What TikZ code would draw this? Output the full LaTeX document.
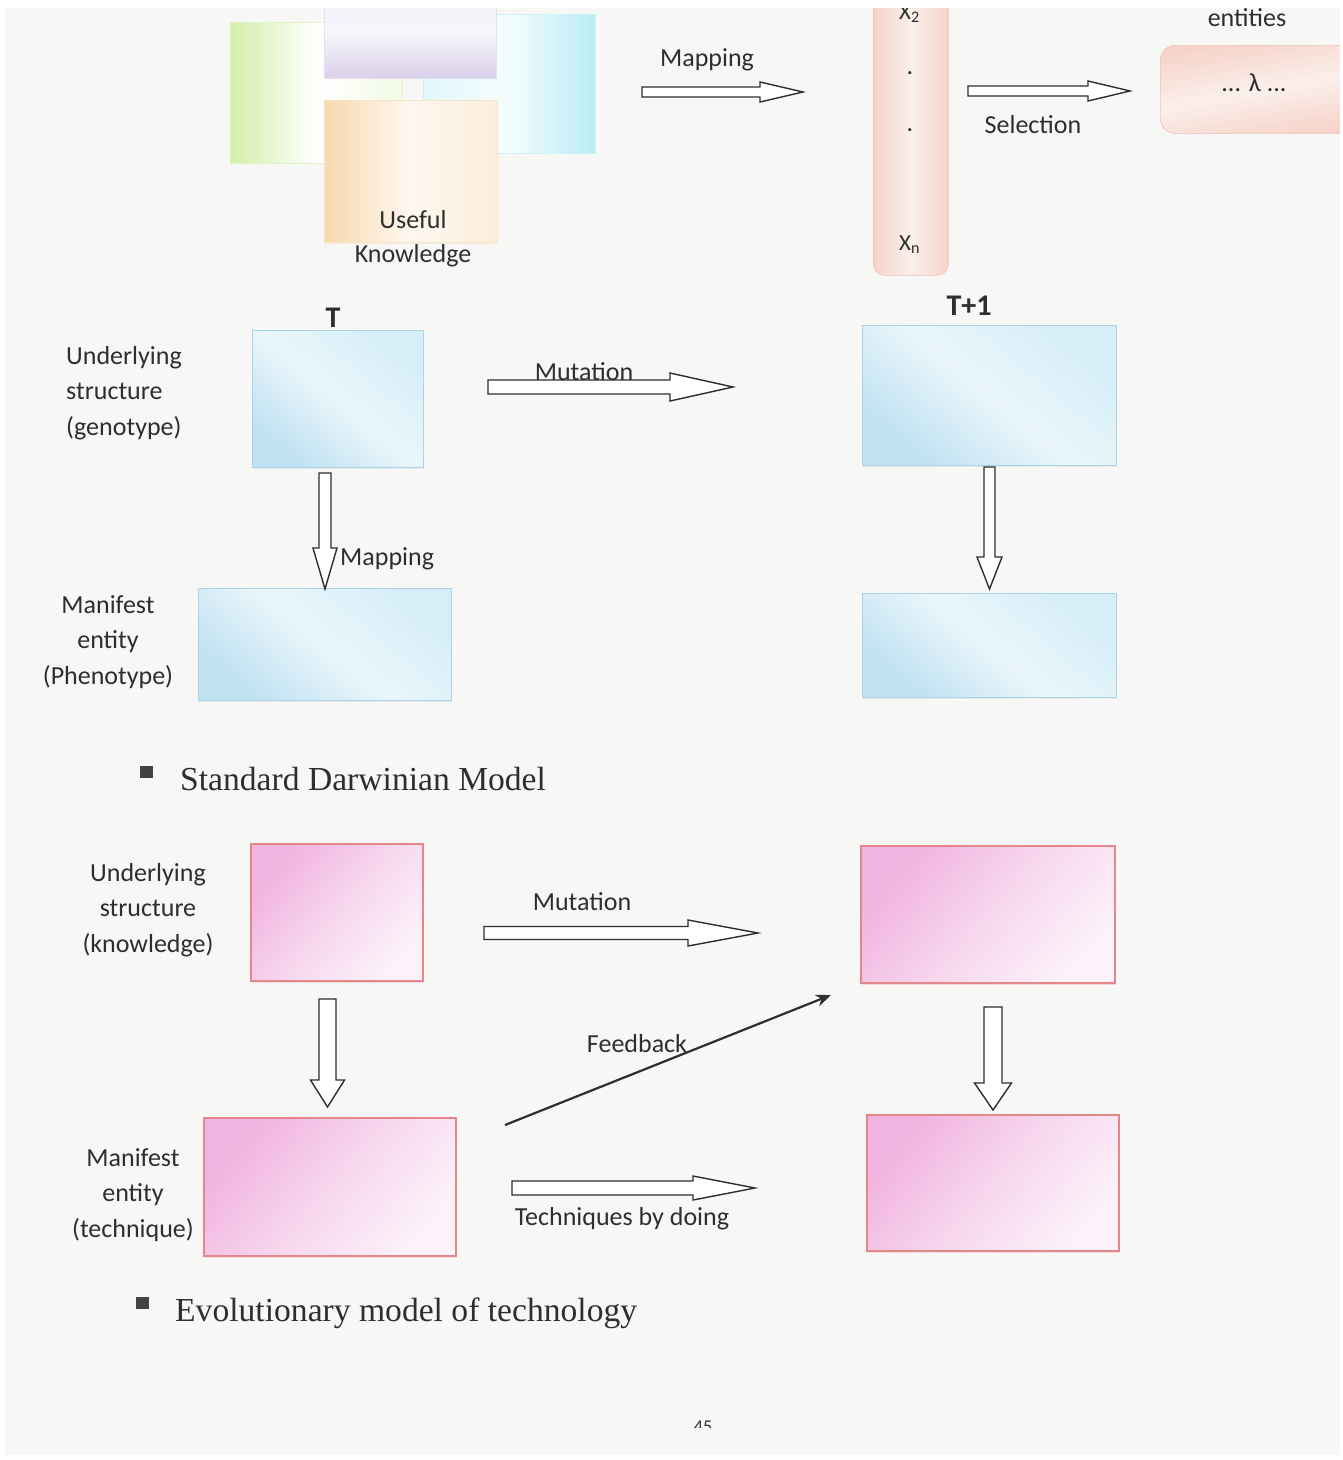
\documentclass[tikz,border=0pt]{standalone}
\usepackage{fontspec}
\setmainfont{Carlito}
\newfontfamily\capserif{Liberation Serif}
\usetikzlibrary{calc,arrows.meta,shadows}

\definecolor{paper}{HTML}{F7F7F5}
\definecolor{ink}{HTML}{2E2E2E}
\definecolor{blueA}{HTML}{BFE1F2}
\definecolor{blueB}{HTML}{D6EEF8}
\definecolor{blueC}{HTML}{EAF6FB}
\definecolor{blueedge}{HTML}{A8D3E8}
\definecolor{pinkA}{HTML}{F1B3DF}
\definecolor{pinkB}{HTML}{FCF2F9}
\definecolor{pinkC}{HTML}{F7D6EE}
\definecolor{pinkedge}{HTML}{E3878A}
\definecolor{greenA}{HTML}{D3EEAA}
\definecolor{lavA}{HTML}{D9D0EA}
\definecolor{cyanA}{HTML}{B8ECF4}
\definecolor{orangeA}{HTML}{F8D9AE}
\definecolor{peachA}{HTML}{F6D3C9}
\definecolor{peachB}{HTML}{FBEFEB}
\definecolor{peachedge}{HTML}{EFC0B6}

% horizontal block arrow: #1 start, #2 tip, #3 shaft half-width, #4 head half-width, #5 head length
\newcommand\hblock[5]{%
  \draw[blockarrow] let \p1=(#1), \p2=(#2) in
    (\x1,\y1+#3pt) -- (\x2-#5pt,\y1+#3pt) -- (\x2-#5pt,\y1+#4pt) -- (\x2,\y1)
    -- (\x2-#5pt,\y1-#4pt) -- (\x2-#5pt,\y1-#3pt) -- (\x1,\y1-#3pt) -- cycle;}
% downward block arrow: same arguments
\newcommand\vblock[5]{%
  \draw[blockarrow] let \p1=(#1), \p2=(#2) in
    (\x1-#3pt,\y1) -- (\x1-#3pt,\y2+#5pt) -- (\x1-#4pt,\y2+#5pt) -- (\x1,\y2)
    -- (\x1+#4pt,\y2+#5pt) -- (\x1+#3pt,\y2+#5pt) -- (\x1+#3pt,\y1) -- cycle;}

\tikzset{
  lbl/.style={font=\fontsize{26}{35.5}\selectfont, text=ink, inner sep=0pt, align=center},
  head/.style={font=\fontsize{30}{30}\bfseries\selectfont, text=ink, inner sep=0pt},
  caption/.style={font=\capserif\fontsize{33.6}{33.6}\selectfont, text=ink, inner sep=0pt, anchor=base west},
  bullet/.style={fill=ink!90, inner sep=0pt, minimum width=13pt, minimum height=12pt, anchor=north west},
  box/.style={anchor=north west, inner sep=0pt},
  bluebox/.style={box, draw=blueedge, line width=0.8pt,
    top color=blueB, bottom color=blueA, middle color=blueC, shading angle=-40,
    drop shadow={opacity=0.12, shadow xshift=1pt, shadow yshift=-2pt}},
  pinkbox/.style={box, draw=pinkedge, line width=1.6pt,
    top color=pinkA, bottom color=pinkB, middle color=pinkC, shading angle=50,
    drop shadow={color=pinkedge, opacity=0.25, shadow xshift=1pt, shadow yshift=-2.5pt}},
  softsq/.style={box, draw=#1!70, line width=0.6pt},
  blockarrow/.style={draw=ink, line width=1.4pt, fill=white, line join=miter},
  feedback/.style={draw=ink, line width=2.2pt, -{Stealth[length=15pt,width=12pt]}},
}

\begin{document}
\begin{tikzpicture}[x=1pt,y=-1pt]
\useasboundingbox (0,0) rectangle (1343,1460);
\fill[white] (0,0) rectangle (1343,1460);
\fill[paper] (5,8) rectangle (1340,1455);

\begin{scope}
\clip (5,8) rectangle (1340,1455);

% ---- useful knowledge: overlapping squares ----
\node[softsq=greenA, left color=greenA, right color=white!70!greenA, middle color=white,
      minimum width=172pt, minimum height=141pt] (sqgreen) at (230,22) {};
\node[softsq=cyanA, right color=cyanA, left color=white!60!cyanA, middle color=white!85!cyanA,
      minimum width=172pt, minimum height=139pt] (sqcyan) at (423,14) {};
\node[softsq=lavA, bottom color=lavA, top color=white!70!lavA, middle color=white!80!lavA,
      minimum width=172pt, minimum height=90pt] (sqlav) at (324,-12) {};
\node[softsq=orangeA, left color=orangeA, right color=white!55!orangeA, middle color=white!80!orangeA,
      minimum width=173pt, minimum height=142pt,
      drop shadow={color=orangeA, opacity=0.3, shadow xshift=1pt, shadow yshift=-2pt}] (sqorange) at (324,100) {};
\node[lbl] (useful) at (413,220) {Useful};
\node[lbl] (knowl) at (413,256) {Knowledge};

% ---- mapping to the population column ----
\coordinate (mapA) at (642,92);
\coordinate (mapB) at (803,92);
\hblock{mapA}{mapB}{5}{10}{43}
\node[lbl] (maplbl) at (707,60) {Mapping};

\node[box, draw=peachedge, line width=0.6pt, rounded corners=11pt,
      left color=peachA, right color=peachA, middle color=peachB,
      minimum width=75pt, minimum height=300pt] (column) at (873,-25) {};
\node[lbl, font=\fontsize{23}{23}\selectfont, anchor=base west] (x2) at (899,19) {X\textsubscript{2}};
\node[lbl, anchor=base] (dotA) at (910,74) {.};
\node[lbl, anchor=base] (dotB) at (910,131) {.};
\node[lbl, font=\fontsize{23}{23}\selectfont, anchor=base west] (xn) at (899,250) {X\textsubscript{n}};

% ---- selection ----
\coordinate (selA) at (968,91);
\coordinate (selB) at (1130,91);
\hblock{selA}{selB}{5}{10}{42}
\node[lbl] (sellbl) at (1033,125) {Selection};

\node[lbl] (entities) at (1247,18) {entities};
\node[box, draw=peachedge, line width=0.6pt, rounded corners=15pt,
      top color=peachA, bottom color=peachA, middle color=peachB, shading angle=10,
      minimum width=210pt, minimum height=88pt] (lambox) at (1160,45) {};
\node[lbl] (lam) at (1254,83) {... λ ...};

% ---- standard Darwinian model ----
\node[head] (tlbl) at (333,318) {T};
\node[head] (t1lbl) at (969,306) {T+1};

\node[bluebox, minimum width=171pt, minimum height=137pt] (geno1) at (252,330) {};
\node[bluebox, minimum width=253pt, minimum height=112pt] (pheno1) at (198,588) {};
\node[bluebox, minimum width=254pt, minimum height=140pt] (geno2) at (862,325) {};
\node[bluebox, minimum width=254pt, minimum height=104pt] (pheno2) at (862,593) {};

\node[lbl, align=left, anchor=west] (genolbl) at (66,393) {Underlying\\structure\\(genotype)};
\node[lbl] (phenolbl) at (108,642) {Manifest\\entity\\(Phenotype)};

\coordinate (mutA) at (488,387);
\coordinate (mutB) at (733,387);
\hblock{mutA}{mutB}{7}{14}{63}
\node[lbl] (mutlbl) at (584,372) {Mutation};

\coordinate (gmapA) at (325,473);
\coordinate (gmapB) at (325,589);
\vblock{gmapA}{gmapB}{6}{12}{41}
\node[lbl, anchor=west] (gmaplbl) at (340,559) {Mapping};

\coordinate (gmap2A) at (989.5,467);
\coordinate (gmap2B) at (989.5,589);
\vblock{gmap2A}{gmap2B}{5.5}{12.5}{32}

\node[bullet] (bul1) at (140,766) {};
\node[caption] (cap1) at (180,790) {Standard Darwinian Model};

% ---- evolutionary model of technology ----
\node[pinkbox, minimum width=172pt, minimum height=137pt] (know1) at (250,843) {};
\node[pinkbox, minimum width=252pt, minimum height=138pt] (tech1) at (203,1117) {};
\node[pinkbox, minimum width=254pt, minimum height=137pt] (know2) at (860,845) {};
\node[pinkbox, minimum width=252pt, minimum height=136pt] (tech2) at (866,1114) {};

\node[lbl] (knowlbl) at (148,910) {Underlying\\structure\\(knowledge)};
\node[lbl] (techlbl) at (133,1195) {Manifest\\entity\\(technique)};

\coordinate (kmutA) at (484,933);
\coordinate (kmutB) at (758,933);
\hblock{kmutA}{kmutB}{6.5}{13}{70}
\node[lbl] (kmutlbl) at (582,902) {Mutation};

\coordinate (kdownA) at (327.5,999);
\coordinate (kdownB) at (327.5,1107);
\vblock{kdownA}{kdownB}{8.5}{17}{27}

\coordinate (k2downA) at (993,1007);
\coordinate (k2downB) at (993,1110);
\vblock{k2downA}{k2downB}{9}{18.5}{27}

\coordinate (fbA) at (505,1125);
\coordinate (fbB) at (831,995);
\draw[feedback] (fbA) -- (fbB);
\node[lbl] (fblbl) at (637,1044) {Feedback};

\coordinate (tdA) at (512,1188);
\coordinate (tdB) at (755,1188);
\hblock{tdA}{tdB}{7}{12}{62}
\node[lbl] (tdlbl) at (622,1219) {Techniques by doing};

\node[bullet] (bul2) at (136,1297) {};
\node[caption] (cap2) at (175,1321) {Evolutionary model of technology};
\end{scope}

% page number, cut off by the lower edge of the sheet
\begin{scope}
\clip (680,1400) rectangle (730,1427);
\node[lbl, font=\fontsize{18}{18}\selectfont, anchor=base] (pageno) at (703,1432) {45};
\end{scope}
\end{tikzpicture}
\end{document}
